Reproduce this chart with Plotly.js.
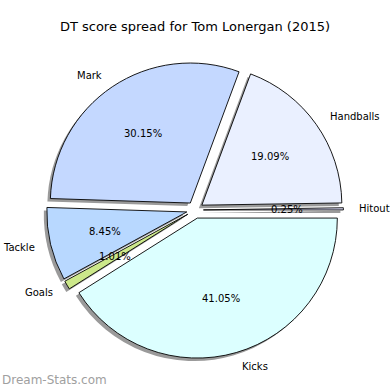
<!DOCTYPE html>
<html>
<head>
<meta charset="utf-8">
<script src="https://cdn.plot.ly/plotly-3.0.1.min.js"></script>
<style>html,body{margin:0;padding:0;background:#fff;}#chart{width:390px;height:390px;}</style>
</head>
<body>
<div id="chart"></div>
<script>
const labels = ["Hitout", "Handballs", "Mark", "Tackle", "Goals", "Kicks"];
const values = [0.25, 19.09, 30.15, 8.45, 1.01, 41.05];
const colors = ["#e4e4ff", "#eaf0ff", "#c4d8ff", "#b8d8ff", "#cce88a", "#dcffff"];
const titleText = "DT score spread for Tom Lonergan (2015)";
const watermark = "Dream-Stats.com";

const W = 390, H = 390;
const cxPx = 195, cyPx = 210;   // pie centre in pixels (from top-left)
const pull = 0.06;
const rPx = 140;
const half = rPx * (1 + pull);
const shadowOff = 3;

function dom(dx, dy) {
  return {
    x: [(cxPx - half + dx) / W, (cxPx + half + dx) / W],
    y: [(H - cyPx - half - dy) / H, (H - cyPx + half - dy) / H]
  };
}

const total = values.reduce((a, b) => a + b, 0);
const fmt = v => (100 * v / total).toFixed(2) + "%";
// plotly places the first slice of a counterclockwise pie ending at "rotation";
// shift so that the first slice starts at 3 o'clock like matplotlib
const rot = 90 - 360 * values[0] / total;

const shadow = {
  type: "pie", values: values, labels: labels, sort: false,
  direction: "counterclockwise", rotation: rot,
  pull: values.map(() => pull),
  marker: {colors: values.map(() => "#9a9a9a"), line: {width: 0}},
  textinfo: "none", hoverinfo: "skip", showlegend: false,
  domain: dom(-shadowOff, shadowOff)
};
const main = {
  type: "pie", values: values, labels: labels, sort: false,
  direction: "counterclockwise", rotation: rot,
  pull: values.map(() => pull),
  marker: {colors: colors, line: {width: 0.9, color: "#000"}},
  textinfo: "none", showlegend: false,
  domain: dom(0, 0)
};

// text annotations placed the matplotlib way (derived from the data)
const annotations = [];
let cum = 0;
values.forEach((v, i) => {
  const mid = (cum + v / 2) / total * 2 * Math.PI;
  cum += v;
  const ux = Math.cos(mid), uy = Math.sin(mid);
  const off = pull * rPx;
  const lx = cxPx + ux * (1.1 * rPx + off), ly = cyPx - uy * (1.1 * rPx + off);
  const px = cxPx + ux * (0.6 * rPx + off), py = cyPx - uy * (0.6 * rPx + off);
  annotations.push({
    xref: "paper", yref: "paper", x: lx / W, y: 1 - ly / H,
    text: labels[i], showarrow: false,
    xanchor: ux > 0 ? "left" : "right", yanchor: "middle",
    font: {family: "DejaVu Sans", size: 10, color: "#000"}
  });
  annotations.push({
    xref: "paper", yref: "paper", x: px / W, y: 1 - py / H,
    text: fmt(v), showarrow: false,
    xanchor: "center", yanchor: "middle",
    font: {family: "DejaVu Sans", size: 10, color: "#000"}
  });
});
annotations.push({
  xref: "paper", yref: "paper", x: 0, y: 1 - 380 / H,
  text: watermark, showarrow: false, xanchor: "left", yanchor: "middle",
  font: {family: "DejaVu Sans", size: 12, color: "#a0a0a0"}
});

const layout = {
  width: W, height: H,
  margin: {l: 0, r: 0, t: 0, b: 0},
  paper_bgcolor: "#fff",
  title: {text: titleText, x: 0.5, xanchor: "center", y: 1 - 26 / H, yanchor: "middle",
          font: {family: "DejaVu Sans", size: 13, color: "#000"}},
  annotations: annotations,
  showlegend: false
};

Plotly.newPlot("chart", [shadow, main], layout, {displayModeBar: false, staticPlot: true});
</script>
</body>
</html>
